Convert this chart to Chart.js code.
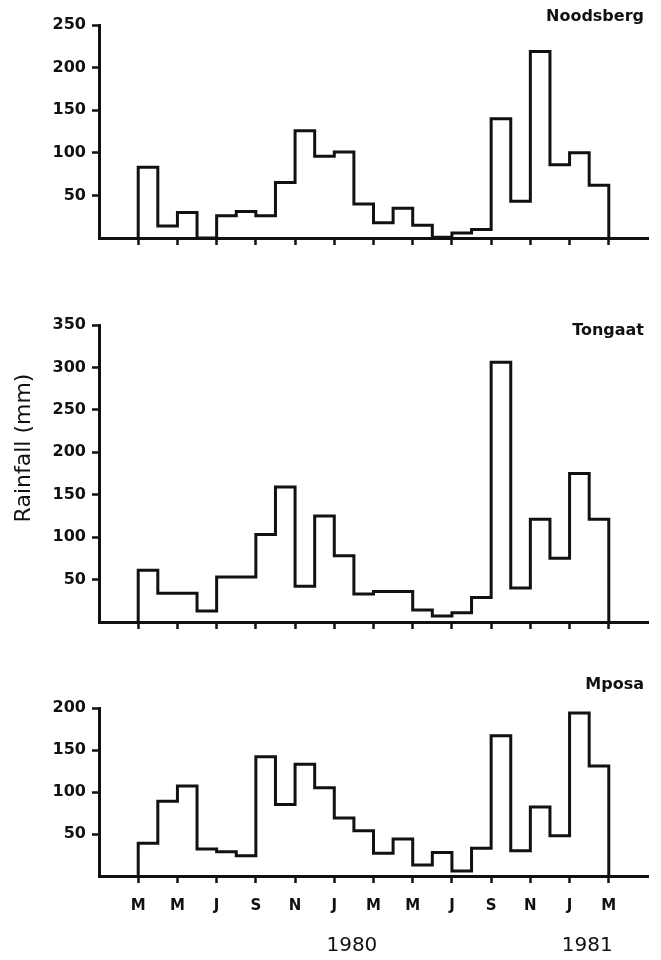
<!DOCTYPE html>
<html>
<head>
<meta charset="utf-8">
<title>Monthly rainfall</title>
<script src="https://cdn.jsdelivr.net/npm/chart.js@4/dist/chart.umd.min.js"></script>
<style>
    html, body { margin: 0; padding: 0; background: #fff; }
    #page { position: relative; width: 661px; height: 960px; background: #fff; }
    #page canvas { position: absolute; left: 0; }
</style>
</head>
<body>
<div id="page">
    <canvas id="grafico-noodsberg" width="661" height="260" style="top:0"></canvas>
    <canvas id="grafico-tongaat" width="661" height="345" style="top:300px"></canvas>
    <canvas id="grafico-mposa" width="661" height="310" style="top:650px"></canvas>
</div>
<script>
// Monthly rainfall (mm), March 1979 to February 1981
const noodsberg = [83, 14, 30, 0, 26, 31, 26, 65, 126, 96, 101, 40, 18, 35, 15, 1, 6, 10, 140, 43, 219, 86, 100, 62];
const tongaat = [61, 34, 34, 13, 53, 53, 103, 159, 42, 125, 78, 33, 36, 36, 14, 7, 11, 29, 306, 40, 121, 75, 175, 121];
const mposa = [39, 89, 107, 32, 29, 24, 142, 85, 133, 105, 69, 54, 27, 44, 13, 28, 6, 33, 167, 30, 82, 48, 194, 131];

const monthLabels = ['M', 'M', 'J', 'S', 'N', 'J', 'M', 'M', 'J', 'S', 'N', 'J', 'M'];
const yearLabels = ['1980', '1981'];
const yearJanuary = [12, 24];   // months counted from January 1979
const firstMonth = 2;           // March 1979
const axisMonths = 28;

const ink = '#111';
const fontName = '"DejaVu Sans", "Liberation Sans", Arial, sans-serif';

// points for a step outline: horizontal over each month, vertical between months
function stepPoints(values) {
    const pts = [{ x: firstMonth, y: 0 }];
    values.forEach(function (v, i) {
        pts.push({ x: firstMonth + i, y: v });
    });
    const end = firstMonth + values.length;
    pts.push({ x: end, y: values[values.length - 1] });
    pts.push({ x: end, y: 0 });
    return pts;
}

const panelText = {
    id: 'panelText',
    afterDraw: function (chart, args, opts) {
        const ctx = chart.ctx;
        const area = chart.chartArea;
        ctx.save();
        ctx.fillStyle = ink;

        ctx.font = 'bold 16px ' + fontName;
        ctx.textAlign = 'right';
        ctx.textBaseline = 'middle';
        ctx.fillText(opts.name, 644, area.top + opts.nameDy);

        if (opts.yTitle) {
            ctx.save();
            ctx.translate(24, area.top + 123);
            ctx.rotate(-Math.PI / 2);
            ctx.font = '22px ' + fontName;
            ctx.textAlign = 'center';
            ctx.fillText(opts.yTitle, 0, 0);
            ctx.restore();
        }

        if (opts.years) {
            const xScale = chart.scales.x;
            ctx.font = '20px ' + fontName;
            ctx.textAlign = 'center';
            yearLabels.forEach(function (label, i) {
                ctx.fillText(label, xScale.getPixelForValue(yearJanuary[i] + 1) - 2, area.bottom + 70);
            });
        }
        ctx.restore();
    }
};

function crearPanel(canvasId, values, yMax, extra) {
    const canvas = document.getElementById(canvasId);
    const xHeight = extra.xHeight;

    return new Chart(canvas.getContext('2d'), {
        type: 'line',
        data: {
            datasets: [{
                data: stepPoints(values),
                stepped: 'before',
                borderColor: ink,
                borderWidth: 3,
                borderJoinStyle: 'miter',
                pointRadius: 0,
                fill: false,
                clip: false
            }]
        },
        plugins: [panelText],
        options: {
            responsive: false,
            animation: false,
            layout: {
                padding: { top: extra.top, right: 13, left: 0, bottom: 0 }
            },
            scales: {
                x: {
                    type: 'linear',
                    min: 0,
                    max: axisMonths,
                    afterBuildTicks: function (scale) {
                        scale.ticks = monthLabels.map(function (l, i) {
                            return { value: firstMonth + 2 * i };
                        });
                    },
                    afterFit: function (scale) {
                        scale.height = xHeight;
                    },
                    ticks: {
                        autoSkip: false,
                        maxRotation: 0,
                        padding: 14,
                        color: ink,
                        font: { family: fontName, size: 15, weight: 'bold' },
                        callback: function (value, index) {
                            return extra.showMonths ? monthLabels[index] : '';
                        }
                    },
                    grid: {
                        drawOnChartArea: false,
                        tickLength: 7,
                        tickWidth: 2.5,
                        tickColor: ink
                    },
                    border: { color: ink, width: 3 }
                },
                y: {
                    min: 0,
                    max: yMax,
                    afterFit: function (scale) {
                        scale.width = 99;
                    },
                    ticks: {
                        stepSize: 50,
                        padding: 6,
                        color: ink,
                        font: { family: fontName, size: 16, weight: 'bold' },
                        callback: function (value) {
                            return value === 0 ? '' : value;
                        }
                    },
                    grid: {
                        drawOnChartArea: false,
                        tickLength: 7,
                        tickWidth: 2.5,
                        tickColor: function (ctx) {
                            return ctx.tick && ctx.tick.value === 0 ? 'rgba(0,0,0,0)' : ink;
                        }
                    },
                    border: { color: ink, width: 3 }
                }
            },
            plugins: {
                legend: { display: false },
                tooltip: { enabled: false },
                panelText: {
                    name: extra.name,
                    nameDy: extra.nameDy,
                    yTitle: extra.yTitle,
                    years: extra.showMonths
                }
            }
        }
    });
}

crearPanel('grafico-noodsberg', noodsberg, 250, { name: 'Noodsberg', nameDy: -8, top: 25, xHeight: 22 });
crearPanel('grafico-tongaat', tongaat, 350, { name: 'Tongaat', nameDy: 6, top: 25, xHeight: 23, yTitle: 'Rainfall (mm)' });
crearPanel('grafico-mposa', mposa, 200, { name: 'Mposa', nameDy: -23, top: 58, xHeight: 84, showMonths: true });
</script>
</body>
</html>
